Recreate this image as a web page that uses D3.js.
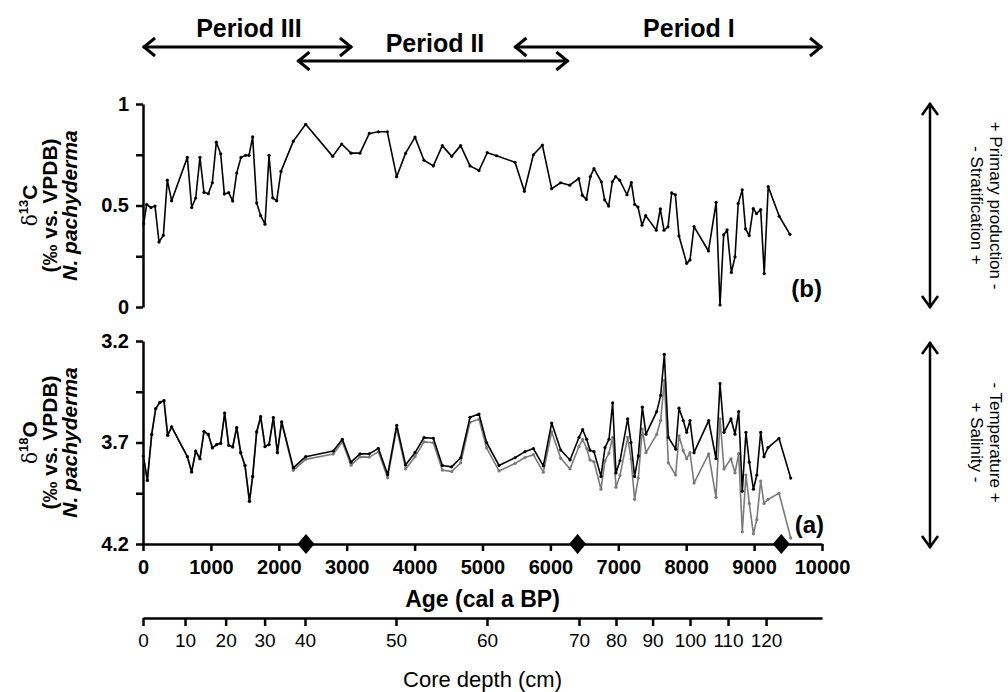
<!DOCTYPE html>
<html><head><meta charset="utf-8">
<script src="https://cdn.jsdelivr.net/npm/d3@7"></script>
<style>
body{margin:0;background:#fff}
svg text{font-family:"Liberation Sans",Arial,Helvetica,sans-serif;fill:#000}
</style>
</head><body>
<svg id="c" width="1008" height="692"></svg>
<script>
// ---------- DATA ----------
const c13Ages = [10,54,118,177,236,300,358,422,653,717,776,839,898,962,1021,1080,1144,1198,1262,1321,1380,1443,1512,1561,1615,1674,1733,1797,1856,1910,1969,2032,2214,2396,2794,2926,3064,3196,3333,3466,3598,3736,3868,4006,4138,4276,4408,4546,4678,4816,4948,5070,5209,5479,5617,5749,5882,6019,6152,6285,6417,6471,6530,6588,6642,6750,6799,6858,6912,6961,7020,7128,7192,7241,7290,7349,7403,7560,7619,7673,7732,7786,7840,7894,8007,8056,8115,8328,8441,8498,8552,8603,8665,8719,8766,8825,8874,8928,8987,9036,9097,9149,9208,9370,9528];
const c13Values = [0.41,0.505,0.49,0.497,0.32,0.353,0.625,0.523,0.737,0.49,0.537,0.737,0.565,0.558,0.612,0.812,0.755,0.557,0.563,0.522,0.66,0.737,0.747,0.747,0.838,0.512,0.45,0.408,0.747,0.538,0.523,0.668,0.817,0.9,0.742,0.803,0.758,0.758,0.855,0.863,0.863,0.642,0.758,0.837,0.723,0.695,0.795,0.742,0.795,0.695,0.672,0.76,0.745,0.713,0.57,0.75,0.797,0.583,0.612,0.6,0.633,0.55,0.53,0.642,0.682,0.617,0.528,0.497,0.617,0.642,0.625,0.553,0.613,0.505,0.492,0.403,0.45,0.378,0.483,0.378,0.395,0.562,0.553,0.35,0.215,0.232,0.396,0.276,0.516,0.01,0.355,0.38,0.17,0.247,0.51,0.577,0.385,0.352,0.485,0.46,0.48,0.165,0.593,0.447,0.358];

const o18Ages = [5,64,128,187,250,309,363,422,653,717,776,839,898,962,1021,1085,1144,1203,1262,1321,1380,1439,1502,1568,1615,1674,1733,1797,1856,1920,1979,2042,2214,2396,2802,2936,3064,3196,3333,3466,3603,3736,3868,4006,4138,4276,4408,4546,4679,4816,4948,5060,5243,5479,5626,5749,5896,6019,6152,6289,6421,6475,6534,6583,6642,6745,6804,6863,6917,6966,7025,7138,7187,7240,7295,7354,7408,7566,7624,7678,7737,7845,7894,7957,8007,8056,8115,8331,8439,8498,8557,8660,8719,8773,8826,8880,8929,8990,9040,9097,9146,9205,9367,9539];
const o18Values = [3.767,3.887,3.66,3.533,3.502,3.494,3.664,3.623,3.77,3.845,3.742,3.78,3.646,3.66,3.726,3.71,3.704,3.555,3.714,3.722,3.626,3.75,3.813,3.99,3.867,3.648,3.573,3.72,3.71,3.577,3.75,3.598,3.825,3.77,3.742,3.684,3.797,3.756,3.756,3.729,3.858,3.615,3.81,3.75,3.676,3.679,3.813,3.82,3.775,3.576,3.56,3.7,3.813,3.775,3.745,3.73,3.815,3.604,3.737,3.786,3.675,3.637,3.684,3.738,3.745,3.867,3.725,3.684,3.505,3.85,3.79,3.584,3.70,3.867,3.766,3.526,3.659,3.548,3.468,3.266,3.675,3.733,3.531,3.592,3.65,3.592,3.75,3.592,3.78,3.41,3.65,3.584,3.659,3.548,3.94,3.65,3.797,3.93,3.86,3.65,3.77,3.725,3.68,3.875];
const o18CorrValues = [3.767,3.887,3.66,3.533,3.502,3.494,3.664,3.623,3.77,3.845,3.742,3.78,3.646,3.66,3.726,3.71,3.704,3.555,3.714,3.722,3.626,3.75,3.813,3.99,3.867,3.648,3.573,3.72,3.71,3.577,3.75,3.6,3.837,3.783,3.757,3.698,3.812,3.771,3.772,3.746,3.874,3.633,3.83,3.77,3.697,3.701,3.836,3.843,3.8,3.6,3.585,3.726,3.84,3.803,3.774,3.76,3.846,3.648,3.778,3.83,3.72,3.684,3.73,3.786,3.795,3.93,3.79,3.752,3.675,3.92,3.862,3.675,3.78,3.98,3.875,3.634,3.75,3.66,3.592,3.394,3.80,3.86,3.667,3.74,3.78,3.75,3.90,3.756,3.97,3.584,3.83,3.78,3.85,3.755,4.14,3.86,4.0,4.15,4.08,3.89,4.0,3.98,3.95,4.17];

const ageTicks = [0,1000,2000,3000,4000,5000,6000,7000,8000,9000,10000];
const c13Ticks = [0,0.25,0.5,0.75,1];
const c13Labels = [0,0.5,1];
const o18Ticks = [3.2,3.45,3.7,3.95,4.2];
const o18Labels = [3.2,3.7,4.2];
const depthLabels = [0,10,20,30,40,50,60,70,80,90,100,110,120];
const depthAges = [0,619,1217,1791,2386,3726,5066,6421,6966,7505,8056,8616,9176];
const datingAges = [2400,6400,9400];

const periodNames = ["Period III","Period II","Period I"];
const periodStart = [0,2275,5470];
const periodEnd = [3078,6265,10000];
const periodLabelAge = [1560,4300,8040];
const periodRow = [0,1,0];

// ---------- CHART ----------
const svg = d3.select("#c");
const x = d3.scaleLinear().domain([0,10000]).range([143,822]);
const yC = d3.scaleLinear().domain([0,1]).range([307,104]);
const yO = d3.scaleLinear().domain([3.2,4.2]).range([341,544]);
const FONT = '"Liberation Sans",Arial,Helvetica,sans-serif';

function styleAxis(g, size, weight){
  g.select(".domain").attr("stroke","#000").attr("stroke-width",2.5);
  g.selectAll(".tick line").attr("stroke","#000").attr("stroke-width",2.5);
  g.selectAll(".tick text").attr("font-size",size).attr("font-weight",weight)
    .attr("font-family",FONT).attr("fill","#000");
}

// δ13C axis
svg.append("g").attr("transform","translate(143,0)")
  .call(d3.axisLeft(yC).tickValues(c13Ticks).tickSize(7).tickSizeOuter(0).tickPadding(7)
    .tickFormat(d => c13Labels.includes(d) ? String(d) : ""))
  .call(g => styleAxis(g,20,"bold"));

// δ18O axis
svg.append("g").attr("transform","translate(143,0)")
  .call(d3.axisLeft(yO).tickValues(o18Ticks).tickSize(7).tickSizeOuter(0).tickPadding(7)
    .tickFormat(d => o18Labels.includes(d) ? d.toFixed(1) : ""))
  .call(g => styleAxis(g,20,"bold"));

// Age axis
svg.append("g").attr("transform","translate(0,544)")
  .call(d3.axisBottom(x).tickValues(ageTicks).tickSize(7).tickSizeOuter(0).tickPadding(9)
    .tickFormat(d => String(d)))
  .call(g => styleAxis(g,20,"bold"));

svg.append("text").attr("x",(x(0)+x(10000))/2).attr("y",607).attr("text-anchor","middle")
  .attr("font-size",23).attr("font-weight","bold").text("Age (cal a BP)");

// Depth axis
svg.append("g").attr("transform","translate(0,618)")
  .call(d3.axisBottom(x).tickValues(depthAges).tickSize(8).tickSizeOuter(0).tickPadding(8)
    .tickFormat((d,i) => String(depthLabels[i])))
  .call(g => styleAxis(g,19,"normal"));

svg.append("text").attr("x",(x(0)+x(10000))/2).attr("y",687).attr("text-anchor","middle")
  .attr("font-size",22).text("Core depth (cm)");

// Data lines
const c13 = c13Ages.map((a,i)=>[a,c13Values[i]]);
const o18 = o18Ages.map((a,i)=>[a,o18Values[i]]);
const o18c = o18Ages.map((a,i)=>[a,o18CorrValues[i]]);

function drawSeries(data, yS, color){
  svg.append("path").datum(data)
    .attr("d", d3.line().x(d=>x(d[0])).y(d=>yS(d[1])))
    .attr("fill","none").attr("stroke",color).attr("stroke-width",1.6).attr("stroke-linejoin","round");
  svg.append("g").selectAll("circle").data(data).join("circle")
    .attr("cx",d=>x(d[0])).attr("cy",d=>yS(d[1])).attr("r",1.6).attr("fill",color);
}
drawSeries(o18c, yO, "#7a7a7a");
drawSeries(o18, yO, "#000");
drawSeries(c13, yC, "#000");

// dating diamonds
svg.append("g").selectAll("path").data(datingAges).join("path")
  .attr("d","M0,-10L8.5,0L0,10L-8.5,0Z")
  .attr("transform",d=>`translate(${x(d)},544)`).attr("fill","#000");

// panel labels
svg.append("text").attr("x",822).attr("y",297).attr("text-anchor","end")
  .attr("font-size",24).attr("font-weight","bold").text("(b)");
svg.append("text").attr("x",824).attr("y",533).attr("text-anchor","end")
  .attr("font-size",24).attr("font-weight","bold").text("(a)");

// period arrows
function hArrow(x1,x2,y){
  svg.append("line").attr("x1",x1).attr("x2",x2).attr("y1",y).attr("y2",y)
    .attr("stroke","#000").attr("stroke-width",3);
  svg.append("path").attr("d",`M${x1+12},${y-9}L${x1+1},${y}L${x1+12},${y+9}M${x2-12},${y-9}L${x2-1},${y}L${x2-12},${y+9}`)
    .attr("fill","none").attr("stroke","#000").attr("stroke-width",3).attr("stroke-linejoin","miter");
}
periodNames.forEach((n,i)=>{
  const y = periodRow[i] ? 61 : 47;
  hArrow(x(periodStart[i]), x(periodEnd[i]), y);
  svg.append("text").attr("x",x(periodLabelAge[i])).attr("y", periodRow[i] ? 52 : 37)
    .attr("text-anchor","middle").attr("font-size",25).attr("font-weight","bold").text(n);
});

// right vertical arrows
function vArrow(xx,y1,y2){
  svg.append("line").attr("x1",xx).attr("x2",xx).attr("y1",y1).attr("y2",y2)
    .attr("stroke","#000").attr("stroke-width",2.5);
  svg.append("path").attr("d",`M${xx-8},${y1+12}L${xx},${y1+1}L${xx+8},${y1+12}M${xx-8},${y2-12}L${xx},${y2-1}L${xx+8},${y2-12}`)
    .attr("fill","none").attr("stroke","#000").attr("stroke-width",2.5);
}
vArrow(930, yC(1)-1, yC(0)+1);
vArrow(930, yO(3.2)+1, yO(4.2)+4);

function rightText(cy, l1, l2){
  const g = svg.append("g").attr("transform",`translate(990,${cy}) rotate(90)`);
  g.append("text").attr("text-anchor","middle").attr("font-size",17).text(l1);
  g.append("text").attr("y",19).attr("text-anchor","middle").attr("font-size",17).text(l2);
}
rightText((yC(0)+yC(1))/2, "+ Primary production -", "- Stratification +");
rightText((yO(3.2)+yO(4.2))/2, "- Temperature +", "+ Salinity -");

// left labels
function leftLabel(cy, iso, elem){
  const g = svg.append("g").attr("transform",`translate(37,${cy}) rotate(-90)`);
  const t = g.append("text").attr("text-anchor","middle").attr("font-size",21).attr("font-weight","bold");
  t.append("tspan").attr("font-family",'"DejaVu Serif","Liberation Serif",serif').attr("font-weight","normal").attr("font-size",20).text("δ");
  t.append("tspan").attr("font-size",13).attr("dy",-9).text(iso);
  t.append("tspan").attr("dy",9).text(elem);
  g.append("text").attr("y",20).attr("text-anchor","middle").attr("font-size",21).attr("font-weight","bold").text("(‰ vs. VPDB)");
  g.append("text").attr("y",40).attr("text-anchor","middle").attr("font-size",21).attr("font-weight","bold")
    .attr("font-style","italic").text("N. pachyderma");
}
leftLabel((yC(0)+yC(1))/2, "13", "C");
leftLabel((yO(3.2)+yO(4.2))/2, "18", "O");
</script>
</body></html>
